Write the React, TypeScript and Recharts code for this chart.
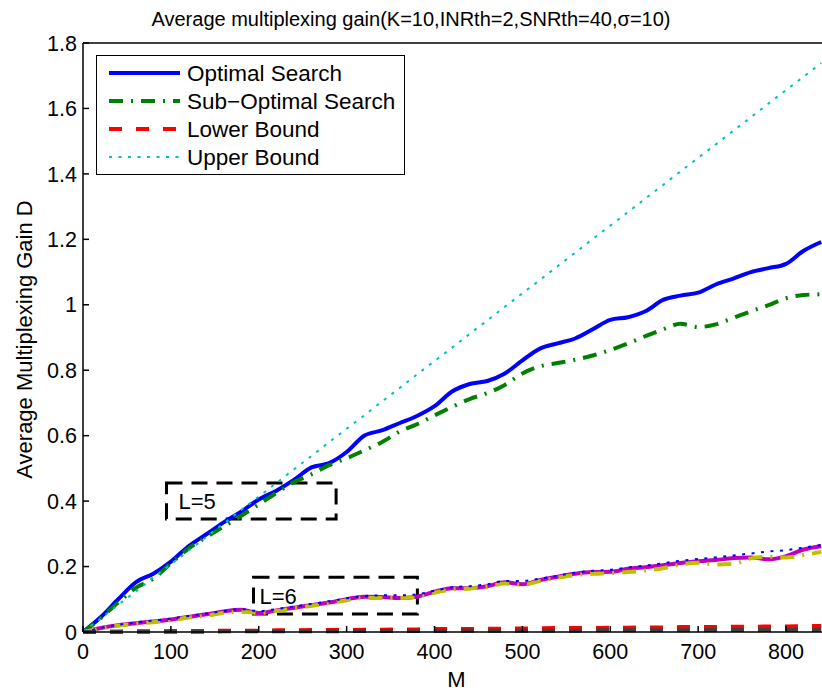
import React from 'react';
import { LineChart, Line, XAxis, YAxis, ReferenceArea } from 'recharts';

// M values shared by every curve
const mValues = [
    0, 20, 40, 60, 80, 100, 120, 140, 160, 180,
    200, 220, 240, 260, 280, 300, 320, 340, 360, 380,
    400, 420, 440, 460, 480, 500, 520, 540, 560, 580,
    600, 620, 640, 660, 680, 700, 720, 740, 760, 780,
    800, 820, 840,
];

// L=5
const optimalL5 = [
    0, 0.045, 0.1, 0.152, 0.178, 0.215, 0.262, 0.298, 0.335, 0.368,
    0.405, 0.432, 0.465, 0.503, 0.516, 0.55, 0.6, 0.616, 0.638, 0.66,
    0.69, 0.735, 0.758, 0.767, 0.79, 0.83, 0.866, 0.882, 0.897, 0.925,
    0.954, 0.962, 0.98, 1.015, 1.028, 1.037, 1.062, 1.08, 1.1, 1.112,
    1.125, 1.165, 1.192,
];
const subOptimalL5 = [
    0, 0.042, 0.09, 0.135, 0.163, 0.21, 0.255, 0.29, 0.322, 0.355,
    0.39, 0.425, 0.458, 0.482, 0.51, 0.531, 0.555, 0.58, 0.612, 0.635,
    0.662, 0.688, 0.712, 0.73, 0.755, 0.79, 0.812, 0.822, 0.832, 0.845,
    0.862, 0.882, 0.904, 0.925, 0.942, 0.932, 0.94, 0.96, 0.98, 0.999,
    1.02, 1.03, 1.032,
];
const lowerL5 = [
    0, 0.001, 0.001, 0.002, 0.002, 0.003, 0.003, 0.003, 0.004, 0.004,
    0.004, 0.005, 0.005, 0.006, 0.006, 0.006, 0.007, 0.007, 0.008, 0.008,
    0.009, 0.009, 0.009, 0.01, 0.01, 0.011, 0.011, 0.012, 0.012, 0.012,
    0.013, 0.013, 0.014, 0.014, 0.015, 0.015, 0.015, 0.016, 0.016, 0.017,
    0.017, 0.018, 0.018,
];
const upperL5 = [
    0, 0.041, 0.083, 0.124, 0.166, 0.207, 0.248, 0.29, 0.331, 0.373,
    0.414, 0.455, 0.497, 0.538, 0.58, 0.621, 0.662, 0.704, 0.745, 0.787,
    0.828, 0.869, 0.911, 0.952, 0.994, 1.035, 1.076, 1.118, 1.159, 1.201,
    1.242, 1.283, 1.325, 1.366, 1.408, 1.449, 1.49, 1.532, 1.573, 1.615,
    1.656, 1.697, 1.739,
];

// L=6
const optimalL6 = [
    0, 0.012, 0.021, 0.027, 0.032, 0.038, 0.046, 0.054, 0.063, 0.068,
    0.058, 0.066, 0.074, 0.082, 0.09, 0.1, 0.108, 0.107, 0.104, 0.108,
    0.123, 0.134, 0.134, 0.14, 0.152, 0.146, 0.159, 0.169, 0.178, 0.183,
    0.184, 0.193, 0.198, 0.204, 0.211, 0.216, 0.22, 0.226, 0.228, 0.222,
    0.232, 0.252, 0.262,
];
const subOptimalL6 = [
    0, 0.011, 0.019, 0.025, 0.03, 0.036, 0.044, 0.05, 0.058, 0.062,
    0.058, 0.064, 0.072, 0.08, 0.088, 0.097, 0.104, 0.104, 0.104, 0.108,
    0.12, 0.13, 0.133, 0.138, 0.148, 0.144, 0.156, 0.166, 0.174, 0.178,
    0.18, 0.183, 0.188, 0.195, 0.206, 0.212, 0.206, 0.208, 0.225, 0.23,
    0.228, 0.235, 0.245,
];
const lowerL6 = [
    0, 0, 0.001, 0.001, 0.001, 0.001, 0.001, 0.001, 0.002, 0.002,
    0.002, 0.002, 0.002, 0.002, 0.002, 0.003, 0.003, 0.003, 0.003, 0.003,
    0.003, 0.003, 0.004, 0.004, 0.004, 0.004, 0.004, 0.004, 0.004, 0.005,
    0.005, 0.005, 0.005, 0.005, 0.005, 0.005, 0.006, 0.006, 0.006, 0.006,
    0.006, 0.006, 0.006,
];
const upperL6 = [
    0, 0.012, 0.022, 0.029, 0.035, 0.041, 0.049, 0.056, 0.064, 0.07,
    0.064, 0.07, 0.078, 0.086, 0.094, 0.103, 0.11, 0.112, 0.112, 0.115,
    0.126, 0.137, 0.14, 0.146, 0.156, 0.156, 0.163, 0.172, 0.181, 0.187,
    0.19, 0.197, 0.203, 0.21, 0.218, 0.223, 0.228, 0.234, 0.24, 0.246,
    0.25, 0.258, 0.266,
];

const xTicks = [0, 100, 200, 300, 400, 500, 600, 700, 800];
const yTicks = [0, 0.2, 0.4, 0.6, 0.8, 1, 1.2, 1.4, 1.6, 1.8];

const legendLabels = ['Optimal Search', 'Sub\u2212Optimal Search', 'Lower Bound', 'Upper Bound'];

// boxes marking the two groups of curves (data coordinates)
const groupBoxes = [
    { label: 'L=5', x1: 95, x2: 288, y1: 0.345, y2: 0.455, dx: 12 },
    { label: 'L=6', x1: 194, x2: 380.5, y1: 0.055, y2: 0.167, dx: 6 },
];

const FONT = '"Liberation Sans", Arial, Helvetica, sans-serif';
const DASH_DOT = '14 8 2 8';
const DASHED = '13 14';
const DOTTED = '3 6.5';

const data = mValues.map((m, i) => ({
    m,
    opt5: optimalL5[i],
    sub5: subOptimalL5[i],
    low5: lowerL5[i],
    up5: upperL5[i],
    opt6: optimalL6[i],
    sub6: subOptimalL6[i],
    low6: lowerL6[i],
    up6: upperL6[i],
}));

const series = [
    { key: 'opt5', color: '#0000ff', width: 4, dash: undefined, type: 'monotone' },
    { key: 'sub5', color: '#008000', width: 4, dash: DASH_DOT, type: 'monotone' },
    { key: 'low5', color: '#ff0000', width: 4, dash: DASHED, type: 'linear' },
    { key: 'up5', color: '#00bfbf', width: 2, dash: DOTTED, type: 'linear' },
    { key: 'opt6', color: '#bf00bf', width: 4, dash: undefined, type: 'monotone' },
    { key: 'sub6', color: '#bfbf00', width: 4, dash: DASH_DOT, type: 'monotone' },
    { key: 'low6', color: '#404040', width: 4, dash: DASHED, type: 'linear' },
    { key: 'up6', color: '#0000ff', width: 2, dash: DOTTED, type: 'monotone' },
];

const LegendBox = () => (
    <div
        style={{
            position: 'absolute',
            left: 96,
            top: 55,
            width: 309,
            height: 120,
            boxSizing: 'border-box',
            border: '1.5px solid #000',
            background: '#fff',
        }}
    >
        <svg width={306} height={117}>
            {legendLabels.map((label, i) => {
                const s = series[i];
                const y = 17 + i * 28;
                return (
                    <g key={label}>
                        <line x1={12} x2={83} y1={y} y2={y} stroke={s.color} strokeWidth={s.width === 4 ? 4 : 2}
                            strokeDasharray={s.dash} />
                        <text x={90} y={y + 7.5} fontSize={22.5} fontFamily={FONT} fill="#000">{label}</text>
                    </g>
                );
            })}
        </svg>
    </div>
);

const renderBoxLabel = (text: string, dx: number) => (props: any) => {
    const { viewBox } = props;
    return (
        <text x={viewBox.x + dx} y={viewBox.y + viewBox.height / 2 + 8} fontSize={22}
            fontFamily={FONT} fill="#000">
            {text}
        </text>
    );
};

const renderYLabel = (props: any) => {
    const { viewBox } = props;
    const cy = viewBox.y + viewBox.height / 2 + 2;
    return (
        <text x={32} y={cy} transform={`rotate(-90, 32, ${cy})`} textAnchor="middle"
            fontSize={22} fontFamily={FONT} fill="#000">
            Average Multiplexing Gain D
        </text>
    );
};

const renderXLabel = (props: any) => {
    const { viewBox } = props;
    return (
        <text x={viewBox.x + viewBox.width / 2} y={687} textAnchor="middle"
            fontSize={22} fontFamily={FONT} fill="#000">
            M
        </text>
    );
};

export default function App() {
    const tickStyle = { fontSize: 21.5, fontFamily: FONT, fill: '#000' };
    return (
        <div style={{ position: 'absolute', left: 0, top: 0, width: 822, height: 692, overflow: 'hidden', background: '#fff' }}>
            <div
                style={{
                    position: 'absolute', left: 0, top: 9, width: 822, textAlign: 'center',
                    fontFamily: FONT, fontSize: 20, lineHeight: '20px', color: '#000',
                }}
            >
                Average multiplexing gain(K=10,INRth=2,SNRth=40,σ=10)
            </div>
            <div style={{ position: 'absolute', left: 0, top: 0 }}>
                <LineChart width={830} height={692} data={data} margin={{ top: 42, right: 0, left: 0, bottom: 0 }}>
                    <XAxis
                        dataKey="m"
                        type="number"
                        domain={[0, 850]}
                        ticks={xTicks}
                        height={60}
                        tickSize={-6}
                        tickMargin={18}
                        stroke="#000"
                        strokeWidth={1.5}
                        tick={tickStyle}
                        label={renderXLabel}
                    />
                    <XAxis
                        xAxisId="top"
                        dataKey="m"
                        type="number"
                        orientation="top"
                        domain={[0, 850]}
                        ticks={xTicks}
                        height={1}
                        tickSize={-6}
                        tick={false}
                        stroke="#000"
                        strokeWidth={1.5}
                    />
                    <YAxis
                        type="number"
                        domain={[0, 1.8]}
                        ticks={yTicks}
                        width={83}
                        tickSize={-6}
                        tickMargin={12}
                        stroke="#000"
                        strokeWidth={1.5}
                        tick={tickStyle}
                        tickFormatter={(v: number) => String(v)}
                        label={renderYLabel}
                    />
                    {series.map((s) => (
                        <Line
                            key={s.key}
                            dataKey={s.key}
                            type={s.type as any}
                            stroke={s.color}
                            strokeWidth={s.width}
                            strokeDasharray={s.dash}
                            dot={false}
                            activeDot={false}
                            isAnimationActive={false}
                        />
                    ))}
                    {groupBoxes.map((b) => (
                        <ReferenceArea
                            key={b.label}
                            x1={b.x1}
                            x2={b.x2}
                            y1={b.y1}
                            y2={b.y2}
                            fill="none"
                            stroke="#000"
                            strokeWidth={3}
                            strokeDasharray="16 9"
                            label={renderBoxLabel(b.label, b.dx)}
                        />
                    ))}
                </LineChart>
            </div>
            <LegendBox />
        </div>
    );
}
